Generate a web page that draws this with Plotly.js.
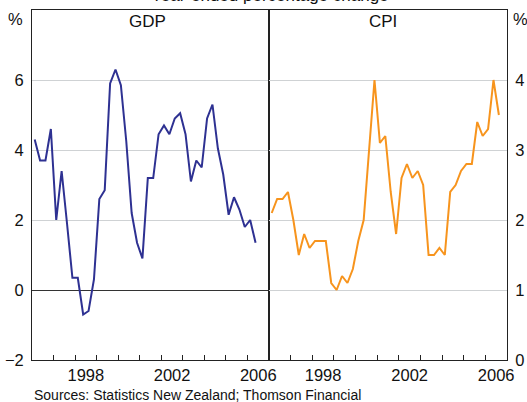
<!DOCTYPE html>
<html><head><meta charset="utf-8">
<script src="https://cdn.plot.ly/plotly-3.0.1.min.js"></script>
<style>html,body{margin:0;padding:0;background:#fff}</style>
</head><body><div id="chart" style="width:527px;height:402px"></div>
<script>
// Quarterly observations, 1996 Q1 onwards
const quarters = [
  '1996Q1','1996Q2','1996Q3','1996Q4','1997Q1','1997Q2','1997Q3','1997Q4',
  '1998Q1','1998Q2','1998Q3','1998Q4','1999Q1','1999Q2','1999Q3','1999Q4',
  '2000Q1','2000Q2','2000Q3','2000Q4','2001Q1','2001Q2','2001Q3','2001Q4',
  '2002Q1','2002Q2','2002Q3','2002Q4','2003Q1','2003Q2','2003Q3','2003Q4',
  '2004Q1','2004Q2','2004Q3','2004Q4','2005Q1','2005Q2','2005Q3','2005Q4',
  '2006Q1','2006Q2','2006Q3'];
const gdp = [4.3, 3.7, 3.7, 4.6, 2.0, 3.4, 1.9, 0.35, 0.35, -0.7, -0.6, 0.3,
  2.6, 2.85, 5.9, 6.3, 5.85, 4.25, 2.2, 1.35, 0.9, 3.2, 3.2, 4.45,
  4.7, 4.45, 4.9, 5.05, 4.45, 3.1, 3.7, 3.5, 4.9, 5.3, 4.05, 3.3,
  2.15, 2.65, 2.3, 1.8, 2.0, 1.35];
const cpi = [2.1, 2.3, 2.3, 2.4, 2.0, 1.5, 1.8, 1.6, 1.7, 1.7, 1.7, 1.1,
  1.0, 1.2, 1.1, 1.3, 1.7, 2.0, 3.0, 4.0, 3.1, 3.2, 2.4, 1.8,
  2.6, 2.8, 2.6, 2.7, 2.5, 1.5, 1.5, 1.6, 1.5, 2.4, 2.5, 2.7,
  2.8, 2.8, 3.4, 3.2, 3.3, 4.0, 3.5];
const yearTicks = [1997,1998,1999,2000,2001,2002,2003,2004,2005,2006];
const yearLabels = ['1998','2002','2006'];
const gdpTicks = [-2,0,2,4,6];
const cpiTicks = [0,1,2,3,4];

// convert quarter label to decimal year (middle of the quarter)
const qx = quarters.map(q => +q.slice(0,4) + (+q.slice(5) - 0.5) / 4);
const labelPos = yearLabels.map(y => +y + 0.5);

const FONT = 'Arial, "Liberation Sans", sans-serif';
const TXT = '#111';

const xBase = {
  range: [1996, 2007], showgrid: false, zeroline: false,
  showline: true, linecolor: '#222', linewidth: 1, mirror: true,
  tickmode: 'array', tickvals: labelPos, ticktext: yearLabels, ticks: '',
  tickfont: {family: FONT, size: 16.5, color: TXT},
  minor: {tickmode: 'array', tickvals: yearTicks, ticks: 'inside', ticklen: 5, tickcolor: '#222', tickwidth: 1, showgrid: false},
  fixedrange: true
};

const data = [
  {x: qx.slice(0, gdp.length), y: gdp, xaxis: 'x', yaxis: 'y', type: 'scatter', mode: 'lines',
   line: {color: '#2e3192', width: 2}, hoverinfo: 'skip'},
  {x: qx.slice(0, cpi.length), y: cpi, xaxis: 'x2', yaxis: 'y2', type: 'scatter', mode: 'lines',
   line: {color: '#f7941d', width: 2}, hoverinfo: 'skip'}
];

const layout = {
  width: 527, height: 402,
  margin: {l: 32, r: 20, t: 10, b: 42},
  paper_bgcolor: '#fff', plot_bgcolor: '#fff',
  showlegend: false,
  font: {family: FONT, color: TXT},
  xaxis: Object.assign({}, xBase, {domain: [0, 0.499], anchor: 'y'}),
  xaxis2: Object.assign({}, xBase, {domain: [0.499, 1], anchor: 'y2'}),
  yaxis: {
    domain: [0, 1], anchor: 'x', range: [-2, 8],
    tickmode: 'array', tickvals: gdpTicks, ticks: '',
    tickfont: {family: FONT, size: 16.5, color: TXT},
    showline: true, linecolor: '#222', linewidth: 1, mirror: true,
    showgrid: true, gridcolor: '#cfd2d4', gridwidth: 1,
    zeroline: true, zerolinecolor: '#333', zerolinewidth: 1,
    ticklabelstandoff: 4, fixedrange: true
  },
  yaxis2: {
    domain: [0, 1], anchor: 'x2', side: 'right', range: [0, 5],
    tickmode: 'array', tickvals: cpiTicks, ticks: '',
    tickfont: {family: FONT, size: 16.5, color: TXT},
    showline: true, linecolor: '#222', linewidth: 1, mirror: true,
    showgrid: true, gridcolor: '#cfd2d4', gridwidth: 1,
    zeroline: false, ticklabelstandoff: 4, fixedrange: true
  },
  annotations: [
    {text: 'Year-ended percentage change', xref: 'paper', yref: 'paper', x: 0.5, y: 1.04,
     xanchor: 'center', yanchor: 'middle', showarrow: false, font: {family: FONT, size: 17, color: TXT}},
    {text: 'GDP', xref: 'paper', yref: 'paper', x: 0.2436, y: 0.967,
     xanchor: 'center', yanchor: 'middle', showarrow: false, font: {family: FONT, size: 17, color: TXT}},
    {text: 'CPI', xref: 'paper', yref: 'paper', x: 0.739, y: 0.967,
     xanchor: 'center', yanchor: 'middle', showarrow: false, font: {family: FONT, size: 17, color: TXT}},
    {text: '%', xref: 'paper', yref: 'paper', x: -0.015, y: 0.974,
     xanchor: 'right', yanchor: 'middle', showarrow: false, font: {family: FONT, size: 16.5, color: TXT}},
    {text: '%', xref: 'paper', yref: 'paper', x: 1.008, y: 0.974,
     xanchor: 'left', yanchor: 'middle', showarrow: false, font: {family: FONT, size: 16.5, color: TXT}},
    {text: 'Sources: Statistics New Zealand; Thomson Financial', xref: 'paper', yref: 'paper', x: 0.001, y: -0.1,
     xanchor: 'left', yanchor: 'middle', showarrow: false, font: {family: FONT, size: 14, color: TXT}}
  ]
};

Plotly.newPlot('chart', data, layout, {displayModeBar: false, staticPlot: true});
</script>
</body></html>
